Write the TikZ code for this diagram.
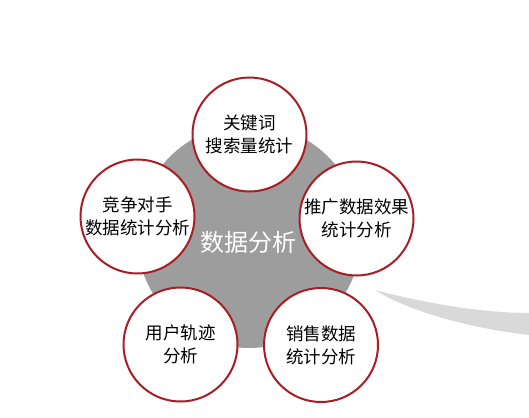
\documentclass[tikz,border=0pt]{standalone}
\usepackage{fontspec}
\newfontfamily\cjk{Noto Sans CJK SC}
\usepackage{tikz}
\definecolor{hubgray}{HTML}{9D9D9D}
\definecolor{swooshgray}{HTML}{D9D9D9}
\definecolor{ringred}{HTML}{A81E24}

\begin{document}
\begin{tikzpicture}[x=1pt, y=-1pt,
        topic/.style={circle, draw=ringred, line width=2pt, fill=white, minimum size=114pt, inner sep=0pt, align=center, font=\cjk\fontsize{17.5}{23}\selectfont}]
        \useasboundingbox (0,0) rectangle (529,417);

        \fill [swooshgray] (375,290) .. controls (420,302) and (480,313) .. (529,313) -- (529,335) .. controls (470,328) and (410,312) .. (375,290);

        \node [circle, fill=hubgray, minimum size=224pt, inner sep=0pt] (hub) at (249,236) {};
        \node [white, font=\cjk\fontsize{24}{28}\selectfont] (hubtext) at (248,242) {数据分析};

        \node [topic] (keyword) at (249.5,134.5) {关键词\\搜索量统计};
        \node [topic] (rival) at (137.5,216.5) {竞争对手\\数据统计分析};
        \node [topic] (promo) at (356.5,218.5) {推广数据效果\\统计分析};
        \node [topic] (track) at (180.5,344.5) {用户轨迹\\分析};
        \node [topic] (sales) at (321,345) {销售数据\\统计分析};
    \end{tikzpicture}
\end{document}
